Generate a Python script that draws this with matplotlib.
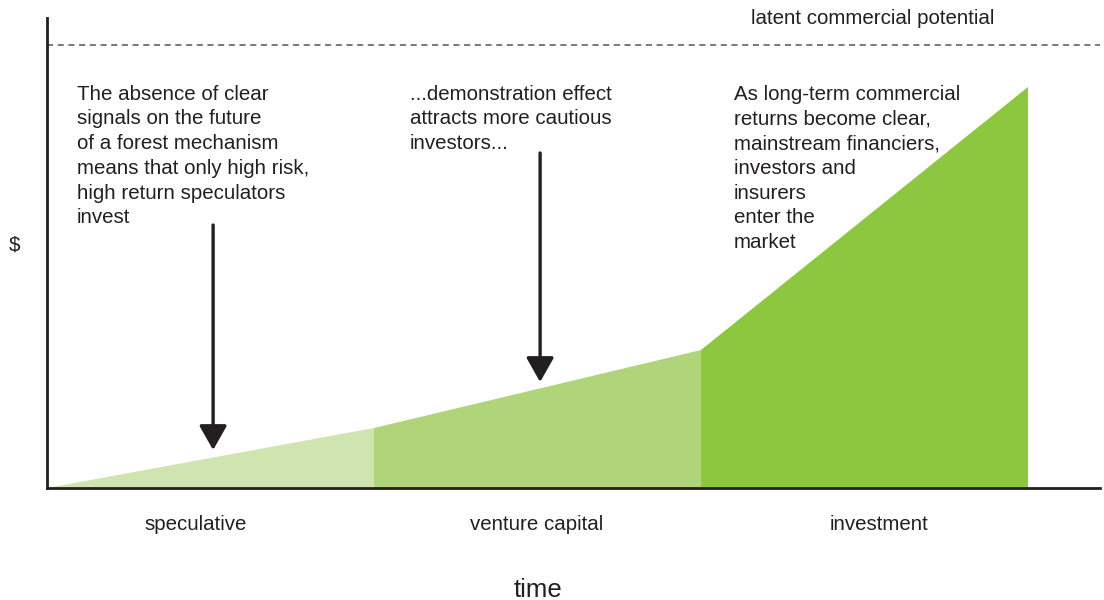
"""
plot.py — Stages of forest finance: investment appetite over time.
"""

import matplotlib.pyplot as plt
from matplotlib.patches import Polygon

plt.rcParams["font.family"] = ["Liberation Sans", "DejaVu Sans"]

# stage boundaries (time units) and investment level ($) at each boundary
stages = ["speculative", "venture capital", "investment"]
stage_label_x = [0.456, 1.497, 2.544]
stage_edges = [0.0, 1.0, 2.0, 3.0]
levels = [0.0, 0.60, 1.38, 4.01]
stage_colors = ["#cfe4ae", "#b0d47a", "#8dc63f"]
latent_potential = 4.43

notes = [
    "The absence of clear\nsignals on the future\nof a forest mechanism\nmeans that only high risk,\nhigh return speculators\ninvest",
    "...demonstration effect\nattracts more cautious\ninvestors...",
    "As long-term commercial\nreturns become clear,\nmainstream financiers,\ninvestors and\ninsurers\nenter the\nmarket",
]
note_x = [0.092, 1.11, 2.10]

# arrows: x, start level, tip level
arrow_x = [0.508, 1.508]
arrow_top = [2.63, 3.35]
arrow_tip = [0.38, 1.06]

ink = "#231f20"
fs = 14.8
x_max = (1100 - 47) / 327

fig = plt.figure(figsize=(11.04, 6.0), dpi=100)
ax = fig.add_axes([47 / 1104, 112 / 600, 1053 / 1104, 470 / 600])

for i, color in enumerate(stage_colors):
    x0, x1 = stage_edges[i], stage_edges[i + 1]
    poly = Polygon([(x0, 0), (x0, levels[i]), (x1, levels[i + 1]), (x1, 0)],
                   closed=True, facecolor=color, edgecolor="none")
    ax.add_patch(poly)

ax.axhline(latent_potential, color="#555555", linestyle=(0, (4, 3)), linewidth=1.1)
ax.text(2.153, 4.70, "latent commercial potential", fontsize=fs, color=ink,
        va="center", ha="left", clip_on=False)

for x, note in zip(note_x, notes):
    ax.text(x, 4.035, note, fontsize=fs, color=ink, va="top", ha="left",
            linespacing=1.385)

for x, top, tip in zip(arrow_x, arrow_top, arrow_tip):
    ax.annotate("", xy=(x, tip), xytext=(x, top),
                arrowprops=dict(arrowstyle="-|>,head_length=1.5,head_width=0.85",
                                color=ink, linewidth=2.4, shrinkA=0, shrinkB=0))

for x, name in zip(stage_label_x, stages):
    ax.text(x, -0.37, name, fontsize=fs, color=ink, ha="center", va="center",
            clip_on=False)

ax.text(1.5, -1.02, "time", fontsize=18.5, color=ink,
        ha="center", va="center", clip_on=False)
ax.text(-0.098, 2.43, "$", fontsize=fs, color=ink, ha="center", va="center",
        clip_on=False)

ax.set_xlim(0, x_max)
ax.set_ylim(0, 4.70)
for side in ["top", "right"]:
    ax.spines[side].set_visible(False)
for side in ["left", "bottom"]:
    ax.spines[side].set_color(ink)
    ax.spines[side].set_linewidth(2)
ax.set_xticks([])
ax.set_yticks([])

fig.savefig("out.png", dpi=100)
